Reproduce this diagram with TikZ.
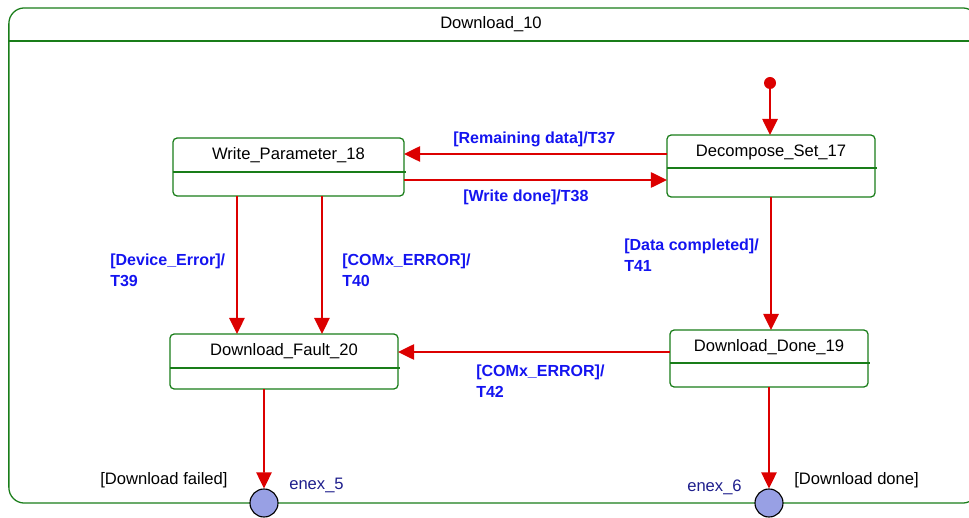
\documentclass[tikz,border=0pt]{standalone}
\usepackage{fontspec}
\setmainfont{Liberation Sans}
\usetikzlibrary{arrows.meta, calc}
\definecolor{framegreen}{RGB}{25,125,25}
\definecolor{arrowred}{RGB}{220,0,0}
\definecolor{guardblue}{RGB}{20,20,240}
\definecolor{enexblue}{RGB}{30,30,140}
\definecolor{pinfill}{RGB}{152,160,228}

\begin{document}
\begin{tikzpicture}[x=0.025cm, y=-0.025cm, >={Triangle[length=11.5pt, width=11pt]},
    font=\fontsize{11.8}{14}\selectfont,
    state/.style={draw=framegreen, line width=0.9pt, rounded corners=3pt, inner sep=0pt, outer sep=0pt},
    divider/.style={draw=framegreen, line width=0.9pt},
    trans/.style={draw=arrowred, line width=1.2pt, ->, arrowred},
    guard/.style={text=guardblue, font=\fontsize{11.4}{15}\selectfont\bfseries, align=left, inner sep=0pt, anchor=west},
    plain/.style={inner sep=0pt, anchor=west},
    pin/.style={circle, draw=black, line width=0.8pt, fill=pinfill, minimum size=0.7cm, inner sep=0pt}]
    \useasboundingbox (0,0) rectangle (969,518);
    \clip (0,0) rectangle (969,518);

    % outer state
    \node[state, rounded corners=11pt, minimum width=24.225cm, minimum height=12.375cm] (download) at (493.5,255.5) {};
    \node (download-name) at (491,24.5) {Download\_10};
    \draw[divider] ($(download.north west)+(0,33)$) -- ($(download.north east)+(0,33)$);

    % inner states
    \node[state, minimum width=5.775cm, minimum height=1.45cm] (wp) at (288.5,167) {};
    \node (wp-name) at ($(wp.north)+(0,17.5)$) {Write\_Parameter\_18};
    \draw[divider] ($(wp.north west)+(0,34)$) -- ($(wp.north east)+(2,34)$);

    \node[state, minimum width=5.2cm, minimum height=1.55cm] (ds) at (771,166) {};
    \node (ds-name) at ($(ds.north)+(0,17.5)$) {Decompose\_Set\_17};
    \draw[divider] ($(ds.north west)+(0,33)$) -- ($(ds.north east)+(2,33)$);

    \node[state, minimum width=5.7cm, minimum height=1.375cm] (df) at (284,361.5) {};
    \node (df-name) at ($(df.north)+(0,17.5)$) {Download\_Fault\_20};
    \draw[divider] ($(df.north west)+(0,34)$) -- ($(df.north east)+(2,34)$);

    \node[state, minimum width=4.95cm, minimum height=1.425cm] (dd) at (769,358.5) {};
    \node (dd-name) at ($(dd.north)+(0,17.5)$) {Download\_Done\_19};
    \draw[divider] ($(dd.north west)+(0,33)$) -- ($(dd.north east)+(2,33)$);

    % initial and exit points
    \node[circle, fill=arrowred, minimum size=0.3cm, inner sep=0pt] (init) at (770,83) {};
    \node[pin] (enex5) at (264,503) {};
    \node[pin] (enex6) at (769,503) {};
    \node[plain, text=enexblue] (enex5-name) at (289,485) {enex\_5};
    \node[plain, text=enexblue] (enex6-name) at (687,487) {enex\_6};
    \node[plain] (failed) at (100,480) {[Download failed]};
    \node[plain] (done) at (794,480) {[Download done]};

    % transitions
    \coordinate (t37) at ($(ds.west)+(0,-12)$);
    \coordinate (t38) at ($(wp.east)+(0,13)$);
    \coordinate (t39) at ($(wp.south west)+(64,0)$);
    \coordinate (t40) at ($(wp.south west)+(149,0)$);
    \coordinate (t42) at ($(dd.west)+(0,-6.5)$);
    \coordinate (tfail) at ($(df.south west)+(94,0)$);

    \draw[trans] (init) -- (init |- ds.north);
    \draw[trans] (t37) -- (t37 -| wp.east);
    \draw[trans] (t38) -- (t38 -| ds.west);
    \draw[trans] (t39) -- (t39 |- df.north);
    \draw[trans] (t40) -- (t40 |- df.north);
    \draw[trans] (ds.south) -- (ds.south |- dd.north);
    \draw[trans] (t42) -- (t42 -| df.east);
    \draw[trans] (tfail) -- (enex5);
    \draw[trans] (dd.south) -- (enex6);

    \node[guard] (g37) at (453,139.5) {[Remaining data]/T37};
    \node[guard] (g38) at (463,197) {[Write done]/T38};
    \node[guard] (g39) at (110,270) {[Device\_Error]/\\T39};
    \node[guard] (g40) at (342,270) {[COMx\_ERROR]/\\T40};
    \node[guard] (g41) at (624,255) {[Data completed]/\\T41};
    \node[guard] (g42) at (476,381) {[COMx\_ERROR]/\\T42};
\end{tikzpicture}
\end{document}
